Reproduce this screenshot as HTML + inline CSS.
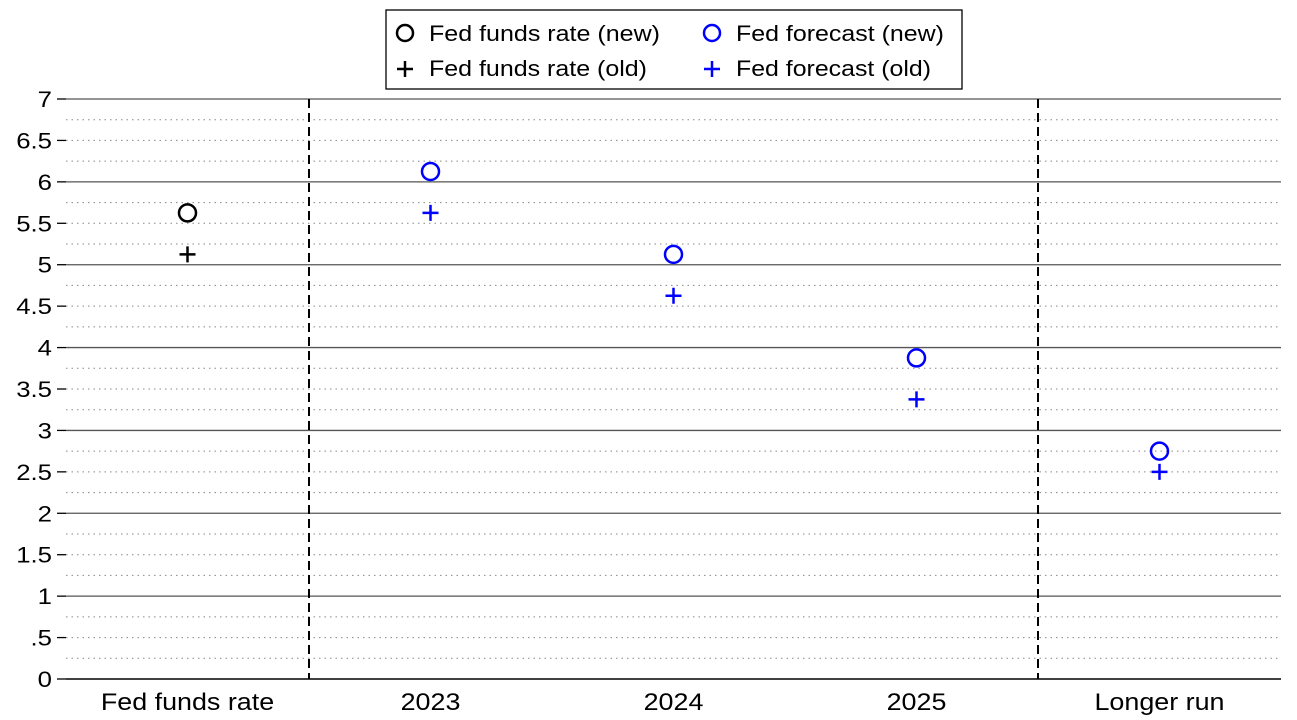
<!DOCTYPE html>
<html><head><meta charset="utf-8"><style>
body{margin:0;background:#fff;}
svg{display:block;font-family:"Liberation Sans",Arial,sans-serif;}
</style></head><body>
<svg id="chart" width="1297" height="720">
<g id="grid"></g>
<g id="yaxis"></g>
<g id="xaxis"></g>
<g id="marks"></g>
<g>
<rect x="386" y="10" width="576" height="79" fill="#fff" stroke="#000" stroke-width="1.3"/>
<g><circle cx="405" cy="33" r="8" fill="none" stroke="#000" stroke-width="2.5"/><text x="429" y="41" font-size="22" textLength="231" lengthAdjust="spacingAndGlyphs">Fed funds rate (new)</text></g>
<g><path d="M397 69h16M405 61v16" stroke="#000" stroke-width="2.5"/><text x="429" y="76" font-size="22" textLength="218" lengthAdjust="spacingAndGlyphs">Fed funds rate (old)</text></g>
<g><circle cx="712" cy="33" r="8" fill="none" stroke="#0000ff" stroke-width="2.5"/><text x="736" y="41" font-size="22" textLength="208" lengthAdjust="spacingAndGlyphs">Fed forecast (new)</text></g>
<g><path d="M704 69h16M712 61v16" stroke="#0000ff" stroke-width="2.5"/><text x="736" y="76" font-size="22" textLength="195" lengthAdjust="spacingAndGlyphs">Fed forecast (old)</text></g>
</g>
</svg>
<script>
const categories=["Fed funds rate","2023","2024","2025","Longer run"];
const newValues=[5.625,6.125,5.125,3.875,2.75];
const oldValues=[5.125,5.625,4.625,3.375,2.5];
const seriesColors=["#000","#0000ff","#0000ff","#0000ff","#0000ff"];
const yTicks=[0,0.5,1,1.5,2,2.5,3,3.5,4,4.5,5,5.5,6,6.5,7];
const yTickLabels=["0",".5","1","1.5","2","2.5","3","3.5","4","4.5","5","5.5","6","6.5","7"];
const NS="http://www.w3.org/2000/svg";
const X0=66,X1=1281,Y0=679,Y7=99;
const y=v=>Y0-(v/7)*(Y0-Y7);
const step=(X1-X0)/categories.length;
const x=i=>X0+step*(i+0.5);
function mk(tag,attrs,parent){const e=document.createElementNS(NS,tag);for(const k in attrs)e.setAttribute(k,attrs[k]);parent.appendChild(e);return e;}
function stretch(t,k){const w=t.getComputedTextLength();t.setAttribute('textLength',w*k);t.setAttribute('lengthAdjust','spacingAndGlyphs');}
const grid=document.getElementById('grid'),ya=document.getElementById('yaxis'),xa=document.getElementById('xaxis'),marks=document.getElementById('marks');
for(let v=0.25;v<7;v+=0.5){const l=mk('line',{x1:X0,x2:X1,y1:y(v),y2:y(v),stroke:'#888','stroke-width':1,'stroke-dasharray':'1.5 4'},grid);}
yTicks.forEach((v,i)=>{
 const major=Number.isInteger(v);
 if(v>0){const l=mk('line',{x1:X0,x2:X1,y1:y(v),y2:y(v),stroke:major?'#555':'#888','stroke-width':major?1.3:1,'stroke-dasharray':major?'none':'1.5 4'},grid);}
 const t=mk('line',{x1:57,x2:X0,y1:y(v),y2:y(v),stroke:'#000','stroke-width':1.3},ya);
 const tx=mk('text',{x:52,y:y(v)+8,'text-anchor':'end','font-size':22},ya);tx.textContent=yTickLabels[i];
 stretch(tx,1.17);
});
const ax=mk('line',{x1:X0,x2:X1,y1:Y0,y2:Y0,stroke:'#000','stroke-width':1.5},xa);
[1,4].forEach(i=>{const d=mk('line',{x1:X0+step*i,x2:X0+step*i,y1:Y7,y2:Y0,stroke:'#000','stroke-width':2,'stroke-dasharray':'9 5'},grid);});
categories.forEach((c,i)=>{
 const t=mk('text',{x:x(i),y:710,'text-anchor':'middle','font-size':24},xa);t.textContent=c;
 stretch(t,1.12);
 const col=seriesColors[i];
 const ci=mk('circle',{cx:x(i),cy:y(newValues[i]),r:8.5,fill:'none',stroke:col,'stroke-width':2.5},marks);
 const X=x(i),Y=y(oldValues[i]);
 const p=mk('path',{d:`M${X-8} ${Y}h16M${X} ${Y-8}v16`,stroke:col,'stroke-width':2.5},marks);
});
</script>
</body></html>
